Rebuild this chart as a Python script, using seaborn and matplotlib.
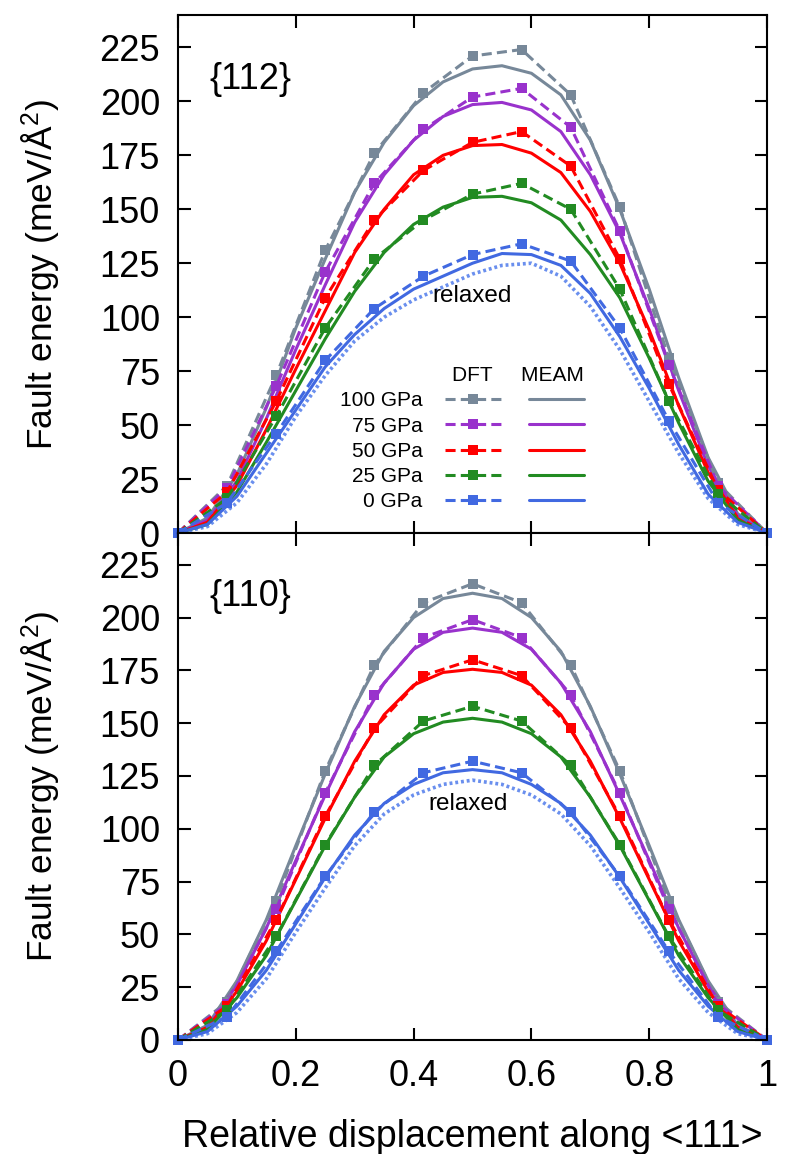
import numpy as np
import pandas as pd
import matplotlib
matplotlib.use("Agg")
import matplotlib.pyplot as plt
from matplotlib.lines import Line2D
from matplotlib.ticker import FormatStrFormatter
import seaborn as sns

# pressures / colours (legend order)
pressures = ["100 GPa", "75 GPa", "50 GPa", "25 GPa", "0 GPa"]
colors = ["#778899", "#9932CC", "#FF0000", "#228B22", "#4169E1"]
relaxed_color = "#6A8FEE"

# DFT points, displacement in steps of 1/12
x_dft = [0, 0.0833, 0.1667, 0.25, 0.3333, 0.4167, 0.5, 0.5833, 0.6667, 0.75, 0.8333, 0.9167, 1]
dft112_100 = [0, 22, 73, 131, 176, 204, 221, 224, 203, 151, 81, 23, 0]
dft112_75 = [0, 21, 68, 121, 162, 187, 202, 206, 188, 140, 78, 22, 0]
dft112_50 = [0, 19, 61, 109, 145, 168, 181, 186, 170, 127, 69, 20, 0]
dft112_25 = [0, 16, 54, 95, 127, 145, 157, 162, 150, 113, 61, 18, 0]
dft112_0 = [0, 14, 46, 80, 104, 119, 129, 134, 126, 95, 52, 14, 0]

dft110_100 = [0, 18, 66, 127.5, 177.5, 207, 216, 207, 177.5, 127.5, 66, 18, 0]
dft110_75 = [0, 17, 62, 117, 163.5, 190.5, 199, 190.5, 163.5, 117, 62, 17, 0]
dft110_50 = [0, 16, 57, 106, 147.5, 172.5, 180, 172.5, 147.5, 106, 57, 16, 0]
dft110_25 = [0, 14, 49, 92.5, 130, 151, 158, 151, 130, 92.5, 49, 14, 0]
dft110_0 = [0, 11, 42, 77.5, 108, 126.5, 132, 126.5, 108, 77.5, 42, 11, 0]

# MEAM curves, read every 0.05
x_meam = [0, 0.05, 0.1, 0.15, 0.2, 0.25, 0.3, 0.35, 0.4, 0.45, 0.5,
          0.55, 0.6, 0.65, 0.7, 0.75, 0.8, 0.85, 0.9, 0.95, 1]
meam112_100 = [0, 7, 27, 58, 95, 127, 158, 181, 198, 209, 215, 216.5, 213, 203, 182, 150, 113, 72, 35, 9, 0]
meam112_75 = [0, 6, 24, 53, 85, 115, 144, 166, 182, 193, 198.5, 199.5, 196, 186, 166, 139, 104, 66, 31, 8, 0]
meam112_50 = [0, 5, 22, 48, 76, 103, 130, 150, 166, 175, 179.5, 180, 176, 167, 149, 125, 94, 59, 28, 7, 0]
meam112_25 = [0, 4, 19, 42, 66, 90, 112, 130, 143, 151, 155.5, 156, 153, 145, 129, 109, 81, 51, 24, 6, 0]
meam112_0 = [0, 4, 17, 37, 57, 77, 92, 104, 113, 119, 125, 129.5, 129, 124, 111, 91, 67, 41, 18, 5, 0]
relaxed112 = [0, 3, 14, 32, 54, 73, 89, 100, 108, 114, 120, 124, 125, 119, 105, 85, 61, 37, 16, 4, 0]

meam110_100 = [0, 7, 28, 57, 92, 126, 158, 184, 200, 209, 211.5, 209, 200, 184, 158, 126, 92, 57, 28, 7, 0]
meam110_75 = [0, 6, 26, 53, 85, 116, 146, 169, 185, 193, 195, 193, 185, 169, 146, 116, 85, 53, 26, 6, 0]
meam110_50 = [0, 6, 23, 47, 76, 105, 132, 154, 168, 174, 175.5, 174, 168, 154, 132, 105, 76, 47, 23, 6, 0]
meam110_25 = [0, 5, 20, 40, 66, 92, 115, 134, 145, 150.5, 152.3, 150.5, 145, 134, 115, 92, 66, 40, 20, 5, 0]
meam110_0 = [0, 4, 16, 33, 55, 77, 97, 112, 121, 126.5, 128, 126.5, 121, 112, 97, 77, 55, 33, 16, 4, 0]
relaxed110 = [0, 3, 13, 29, 51, 72, 92, 107, 116, 121, 123, 121, 116, 107, 92, 72, 51, 29, 13, 3, 0]

yticks = [0, 25, 50, 75, 100, 125, 150, 175, 200, 225]
xticks = [0, 0.2, 0.4, 0.6, 0.8, 1]


def long_df(xs, series):
    rows = []
    for p, ys in zip(pressures, series):
        for xv, yv in zip(xs, ys):
            rows.append((xv, yv, p))
    return pd.DataFrame(rows, columns=["x", "E", "P"])


sns.set_theme(style="ticks")
plt.rcParams["font.family"] = ["Liberation Sans", "DejaVu Sans"]
plt.rcParams["mathtext.fontset"] = "custom"
plt.rcParams["mathtext.rm"] = "Liberation Sans"
plt.rcParams["mathtext.it"] = "Liberation Sans:italic"
for key in ["text.color", "axes.labelcolor", "xtick.color", "ytick.color", "axes.edgecolor"]:
    plt.rcParams[key] = "black"

pal = dict(zip(pressures, colors))
dash = (0, (3.3, 1.7))
lw = 2.2

fig = plt.figure(figsize=(8.08, 11.54), dpi=100)
ax1 = fig.add_axes([0.2203, 0.5381, 0.7290, 0.4489])
ax2 = fig.add_axes([0.2203, 0.0988, 0.7290, 0.4393])

panels = [
    (ax1, [dft112_100, dft112_75, dft112_50, dft112_25, dft112_0],
     [meam112_100, meam112_75, meam112_50, meam112_25, meam112_0], relaxed112,
     "{112}", (0.5, 110)),
    (ax2, [dft110_100, dft110_75, dft110_50, dft110_25, dft110_0],
     [meam110_100, meam110_75, meam110_50, meam110_25, meam110_0], relaxed110,
     "{110}", (0.493, 111.5)),
]

for ax, dft, meam, relaxed, name, rel_pos in panels:
    sns.lineplot(data=pd.DataFrame({"x": x_meam, "E": relaxed}), x="x", y="E",
                 color=relaxed_color, lw=2.6, linestyle=(0, (0.8, 0.8)),
                 ax=ax, legend=False, errorbar=None, estimator=None)
    sns.lineplot(data=long_df(x_meam, meam), x="x", y="E", hue="P",
                 hue_order=pressures, palette=pal, lw=lw, ax=ax,
                 legend=False, errorbar=None, estimator=None)
    sns.lineplot(data=long_df(x_dft, dft), x="x", y="E", hue="P",
                 hue_order=pressures, palette=pal, lw=lw, linestyle=dash,
                 marker="s", markersize=7, markeredgewidth=0, clip_on=False,
                 ax=ax, legend=False, errorbar=None, estimator=None)

    ax.set_xlim(0, 1)
    ax.set_ylim(0, 240)
    ax.set_xticks(xticks)
    ax.set_yticks(yticks)
    ax.xaxis.set_major_formatter(FormatStrFormatter("%g"))
    ax.tick_params(direction="in", length=9, width=1.5, top=True, right=True,
                   labelsize=26, colors="black")
    ax.tick_params(axis="y", pad=13)
    ax.tick_params(axis="x", pad=14)
    for sp in ax.spines.values():
        sp.set_linewidth(1.5)
        sp.set_color("black")
    ax.set_xlabel("")
    ax.set_ylabel("Fault energy (meV/Å$^2$)", fontsize=25.5)
    ax.yaxis.set_label_coords(-0.197, 0.5)
    ax.text(0.054, 210, name, fontsize=26, va="center", ha="left")
    ax.text(rel_pos[0], rel_pos[1], "relaxed", fontsize=17.5, ha="center", va="center")

ax1.tick_params(labelbottom=False)
ax2.set_xlabel("Relative displacement along <111>", fontsize=27, labelpad=18)

# legend: DFT column and MEAM column
dft_handles = [Line2D([], [], color=c, lw=lw, linestyle=dash, marker="s",
                      markersize=7, markeredgewidth=0) for c in colors]
meam_handles = [Line2D([], [], color=c, lw=lw) for c in colors]
ax1.legend(dft_handles + meam_handles, pressures + [""] * 5, ncol=2,
           markerfirst=False, frameon=False, loc="upper right",
           bbox_to_anchor=(0.689, 0.322), borderaxespad=0, borderpad=0,
           fontsize=15, title="DFT     MEAM", title_fontsize=15,
           alignment="right", handlelength=2.65, handletextpad=1.1,
           columnspacing=0.25, labelspacing=0.3, numpoints=1)

fig.savefig("out.png", dpi=100)
